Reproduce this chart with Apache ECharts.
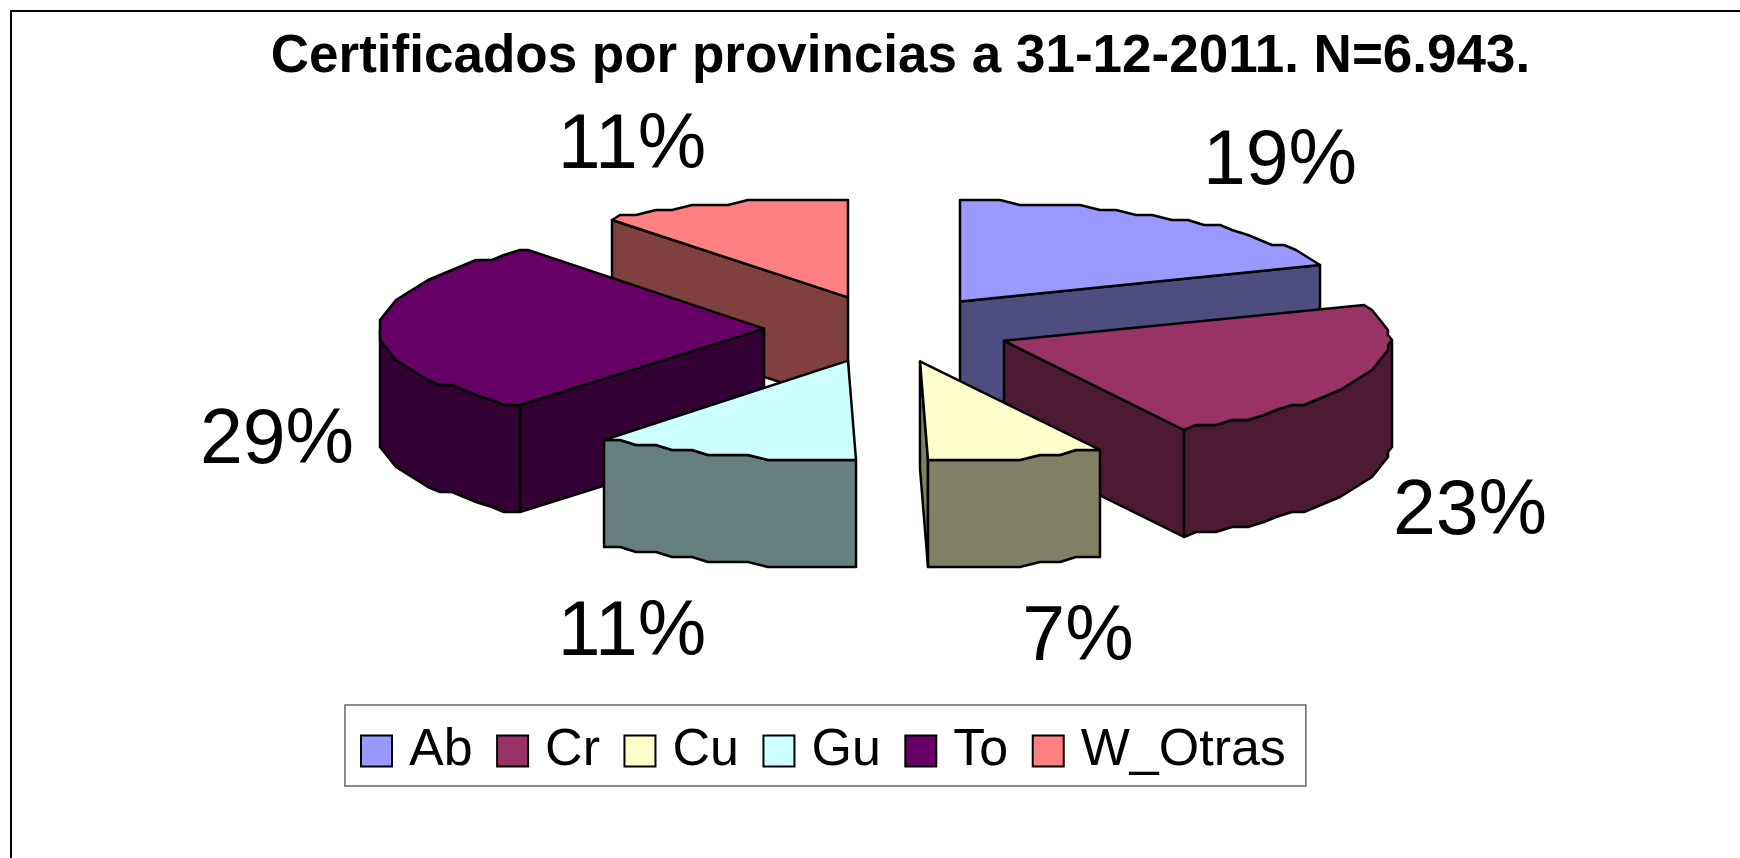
<!DOCTYPE html>
<html>
<head>
<meta charset="utf-8">
<title>Certificados por provincias</title>
<script src="https://cdn.jsdelivr.net/npm/echarts@6/dist/echarts.min.js"></script>
<style>
	html, body { margin: 0; padding: 0; background: #fff; }
	#chart { width: 1740px; height: 858px; }
</style>
</head>
<body>
<div id="chart"></div>
<script>
var categories = ['Ab', 'Cr', 'Cu', 'Gu', 'To', 'W_Otras'];
var certificados = [1336, 1594, 520, 779, 1980, 734];
var topColors = ['#9999FF', '#993366', '#FFFFCC', '#CCFFFF', '#660066', '#FF8080'];
var sideColors = ['#4D4D80', '#4D1A33', '#808066', '#668080', '#330033', '#804040'];

// painter order, back slices first
var drawOrder = ['W_Otras', 'Ab', 'Cr', 'To', 'Cu', 'Gu'];
// label centres, the spreadsheet placed them by hand
var labelCentres = [[1280, 163], [1470, 513], [1078, 639], [632, 634], [277, 442], [632, 147]];

var cx = 888.5, cy = 329;
var rx = 386, ry = 99.5;
var depth = 107;
var explodeX = 123, explodeY = 33.5;
var font = '"Liberation Sans", Arial, sans-serif';

var total = certificados.reduce(function(a, b) { return a + b; }, 0);

// angle in degrees clockwise from 12 o'clock
function toAngle(part) {
	return part / total * 360;
}

function slicePath(index) {
	var start = 0;
	for (var i = 0; i < index; i++) {
		start += toAngle(certificados[i]);
	}
	var end = start + toAngle(certificados[index]);
	var mid = (start + end) / 2 * Math.PI / 180;
	return {
		start: start,
		end: end,
		ax: Math.round((cx + explodeX * Math.sin(mid)) / 4) * 4,
		ay: cy - explodeY * Math.cos(mid)
	};
}

// the original rim is a coarse stepped outline, not a clean ellipse
function rimPoint(s, deg) {
	var r = deg * Math.PI / 180;
	var x = s.ax + rx * Math.sin(r), y = s.ay - ry * Math.cos(r);
	return [Math.round(x / 4) * 4, Math.round(y / 5) * 5];
}

// sampled on a fixed 3 degree grid so the top face and the wall share their corners
function rimLine(s, from, to) {
	var points = [rimPoint(s, from)];
	for (var deg = Math.floor(from / 3) * 3 + 3; deg < to; deg += 3) {
		points.push(rimPoint(s, deg));
	}
	points.push(rimPoint(s, to));
	return points;
}

function polygon(points, fill) {
	return {
		type: 'polygon',
		shape: { points: points },
		style: { fill: fill, stroke: '#000', lineWidth: 2.5, lineJoin: 'round' }
	};
}

function radialWall(s, deg, fill) {
	var p = rimPoint(s, deg);
	return polygon([[s.ax, s.ay], p, [p[0], p[1] + depth], [s.ax, s.ay + depth]], fill);
}

function renderSlice(index) {
	var s = slicePath(index);
	var children = [];
	if (Math.sin(s.start * Math.PI / 180) < -0.001) {
		children.push(radialWall(s, s.start, sideColors[index]));
	}
	if (Math.sin(s.end * Math.PI / 180) > 0.001) {
		children.push(radialWall(s, s.end, sideColors[index]));
	}
	// outer wall, only the part between 3 and 9 o'clock faces the viewer
	var from = Math.max(s.start, 90), to = Math.min(s.end, 270);
	if (to > from) {
		var upper = rimLine(s, from, to);
		var lower = upper.map(function(p) {
			return [p[0], p[1] + depth];
		}).reverse();
		children.push(polygon(upper.concat(lower), sideColors[index]));
	}
	children.push(polygon([[s.ax, s.ay]].concat(rimLine(s, s.start, s.end)), topColors[index]));
	children.push({
		type: 'text',
		x: labelCentres[index][0],
		y: labelCentres[index][1],
		style: {
			text: Math.round(certificados[index] / total * 100) + '%',
			fontFamily: font,
			fontSize: 77,
			fill: '#000',
			align: 'center',
			verticalAlign: 'middle'
		}
	});
	return { type: 'group', children: children };
}

var series = categories.map(function(name, index) {
	return {
		name: name,
		type: 'custom',
		coordinateSystem: 'none',
		z: 2 + drawOrder.indexOf(name),
		silent: true,
		itemStyle: { color: topColors[index] },
		data: [certificados[index]],
		renderItem: function() {
			return renderSlice(index);
		}
	};
});

var chart = echarts.init(document.getElementById('chart'));
chart.setOption({
	animation: false,
	backgroundColor: '#fff',
	title: {
		text: 'Certificados por provincias a 31-12-2011. N=6.943.',
		left: 895.5,
		top: 26,
		textAlign: 'center',
		textStyle: { fontFamily: font, fontSize: 53, fontWeight: 'bold', color: '#000' }
	},
	legend: {
		data: categories,
		left: 345,
		top: 705,
		width: 1000,
		padding: [20, 20, 9, 15],
		itemWidth: 31,
		itemHeight: 31,
		itemGap: 23.5,
		icon: 'rect',
		backgroundColor: '#fff',
		borderColor: '#666',
		borderWidth: 1.5,
		itemStyle: { borderColor: '#000', borderWidth: 2 },
		textStyle: { fontFamily: font, fontSize: 52, color: '#000', padding: [0, 0, 0, 12] }
	},
	graphic: [{
		type: 'rect',
		silent: true,
		shape: { x: 11, y: 11, width: 1800, height: 900 },
		style: { fill: null, stroke: '#000', lineWidth: 2 }
	}],
	series: series
});
</script>
</body>
</html>
